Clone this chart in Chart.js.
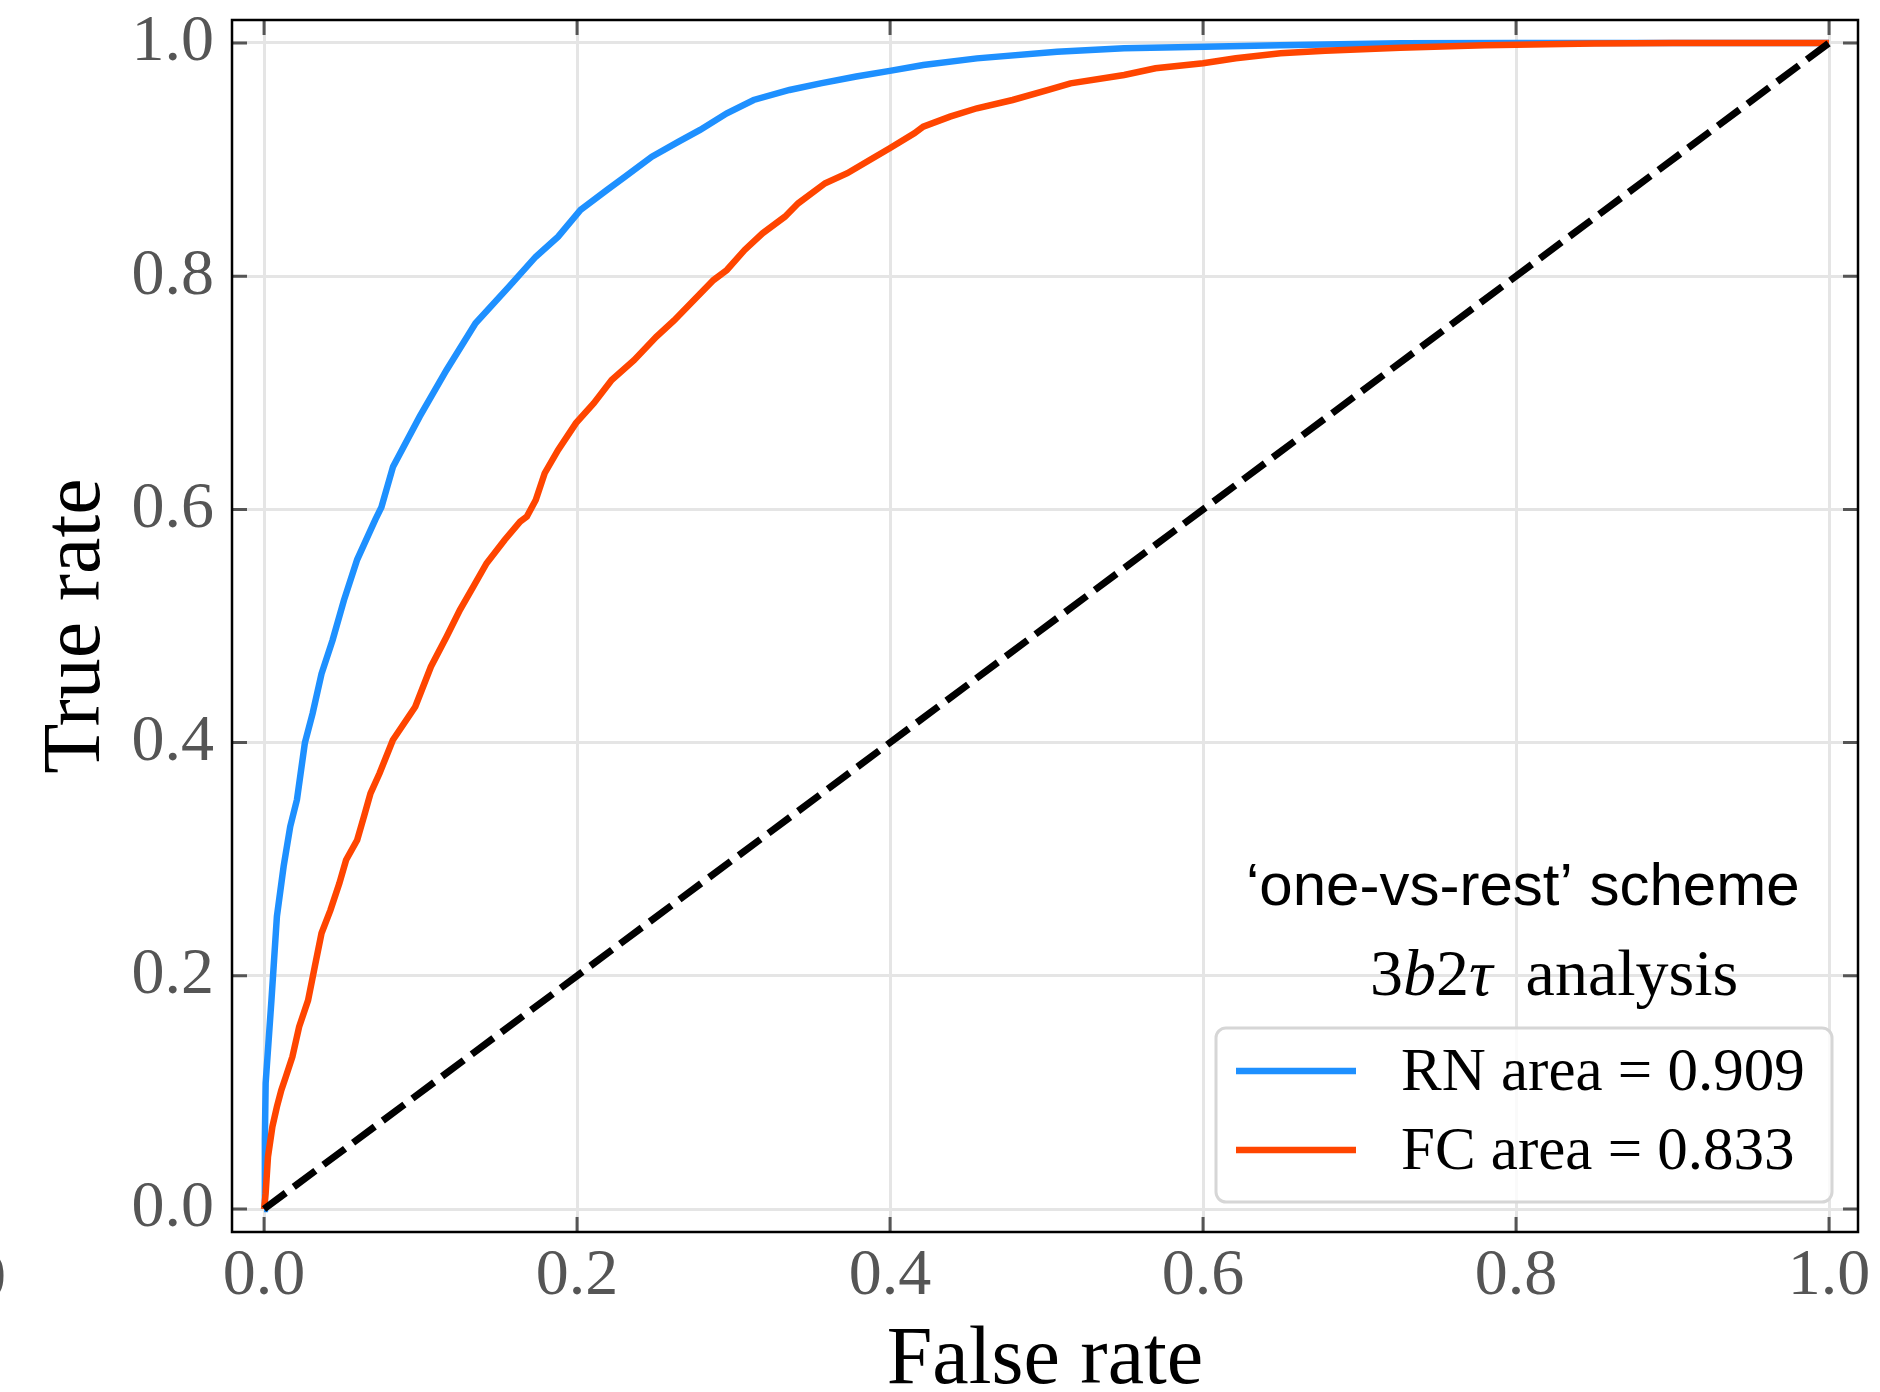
<!DOCTYPE html>
<html>
<head>
<meta charset="utf-8">
<script src="https://cdn.jsdelivr.net/npm/chart.js@4.4.1/dist/chart.umd.min.js"></script>
<style>
  html, body { margin: 0; padding: 0; background: #fff; }
  #wrap { width: 1880px; height: 1392px; }
</style>
</head>
<body>
<div id="wrap"><canvas id="roc" width="1880" height="1392"></canvas></div>
<script>
// ROC data
const rnFalse = [0, 0.0005, 0.001, 0.0047, 0.0082, 0.0125, 0.0167, 0.021, 0.0261, 0.031, 0.0367, 0.0438, 0.051, 0.0595, 0.071, 0.075, 0.0824, 0.0994, 0.1166, 0.1351, 0.1565, 0.1736, 0.1879, 0.2022, 0.2192, 0.2307, 0.2478, 0.2649, 0.2786, 0.2957, 0.3128, 0.3357, 0.3556, 0.3784, 0.3998, 0.4212, 0.4555, 0.5067, 0.5495, 0.601, 0.649, 0.726, 0.8, 1.0];
const rnTrue = [0, 0.06, 0.108, 0.179, 0.251, 0.294, 0.328, 0.351, 0.40, 0.425, 0.459, 0.488, 0.522, 0.557, 0.591, 0.602, 0.6366, 0.6795, 0.7196, 0.7596, 0.791, 0.8167, 0.8339, 0.8568, 0.874, 0.8853, 0.9025, 0.9154, 0.9254, 0.9397, 0.9511, 0.9597, 0.9654, 0.9712, 0.9761, 0.9811, 0.9868, 0.9925, 0.9954, 0.9968, 0.998, 0.9997, 1.0, 1.0];

const fcFalse = [0, 0.001, 0.0025, 0.0053, 0.0082, 0.011, 0.0139, 0.0181, 0.0224, 0.0281, 0.0324, 0.0367, 0.0424, 0.0481, 0.0524, 0.0595, 0.0638, 0.068, 0.0738, 0.0823, 0.088, 0.0966, 0.1066, 0.1166, 0.1251, 0.1337, 0.1422, 0.1537, 0.1636, 0.1679, 0.1736, 0.1793, 0.1879, 0.1993, 0.2107, 0.2221, 0.2364, 0.2506, 0.262, 0.2786, 0.2872, 0.2957, 0.3071, 0.3185, 0.3328, 0.3413, 0.3585, 0.3727, 0.387, 0.3998, 0.4155, 0.4212, 0.4383, 0.4555, 0.4783, 0.5011, 0.5153, 0.5496, 0.5696, 0.6, 0.6209, 0.6495, 0.678, 0.726, 0.78, 0.85, 0.9, 1.0];
const fcTrue = [0, 0.0135, 0.0449, 0.0706, 0.0877, 0.102, 0.1135, 0.1306, 0.1563, 0.179, 0.2078, 0.2365, 0.2564, 0.2793, 0.2993, 0.3165, 0.3365, 0.3565, 0.3737, 0.4022, 0.4136, 0.4308, 0.4651, 0.4908, 0.5137, 0.5337, 0.5538, 0.5738, 0.5895, 0.5938, 0.608, 0.631, 0.651, 0.674, 0.691, 0.711, 0.728, 0.748, 0.762, 0.785, 0.7967, 0.8053, 0.8225, 0.8368, 0.851, 0.8625, 0.8797, 0.8883, 0.8997, 0.9097, 0.9225, 0.9282, 0.9368, 0.944, 0.9511, 0.9597, 0.9654, 0.9725, 0.9783, 0.9826, 0.9869, 0.9911, 0.9934, 0.996, 0.998, 0.9995, 1.0, 1.0];

// chance line
const diagFalse = [0, 1];
const diagTrue = [0, 1];

const tickValues = [0, 0.2, 0.4, 0.6, 0.8, 1.0];
const seriesLabels = ['RN area = 0.909', 'FC area = 0.833'];
const seriesColors = ['#1e90ff', '#ff4500'];

const toPoints = (xs, ys) => xs.map((v, i) => ({ x: v, y: ys[i] }));

// inward ticks on all four sides + black frame
const frameTicks = {
    id: 'frameTicks',
    afterDatasetsDraw(chart) {
        const { ctx, chartArea: a, scales: { x, y } } = chart;
        ctx.save();
        ctx.strokeStyle = '#555';
        ctx.lineWidth = 3;
        ctx.beginPath();
        tickValues.forEach(v => {
            const px = x.getPixelForValue(v);
            const py = y.getPixelForValue(v);
            ctx.moveTo(px, a.bottom); ctx.lineTo(px, a.bottom - 15);
            ctx.moveTo(px, a.top); ctx.lineTo(px, a.top + 15);
            ctx.moveTo(a.left, py); ctx.lineTo(a.left + 15, py);
            ctx.moveTo(a.right, py); ctx.lineTo(a.right - 15, py);
        });
        ctx.stroke();
        ctx.strokeStyle = '#000';
        ctx.lineWidth = 2.5;
        ctx.strokeRect(a.left, a.top, a.right - a.left, a.bottom - a.top);
        ctx.restore();
    }
};

// legend box and the two text notes
const notes = {
    id: 'notes',
    afterDraw(chart) {
        const ctx = chart.ctx;
        ctx.save();

        // legend
        ctx.fillStyle = 'rgba(255,255,255,0.8)';
        ctx.strokeStyle = '#d6d6d6';
        ctx.lineWidth = 3;
        ctx.beginPath();
        ctx.roundRect(1216, 1028, 616, 174, 10);
        ctx.fill();
        ctx.stroke();

        seriesLabels.forEach((label, i) => {
            const yy = 1071 + i * 79;
            ctx.strokeStyle = seriesColors[i];
            ctx.lineWidth = 6.5;
            ctx.beginPath();
            ctx.moveTo(1236, yy);
            ctx.lineTo(1356, yy);
            ctx.stroke();
            ctx.fillStyle = '#000';
            ctx.font = '61px "Liberation Serif"';
            ctx.textBaseline = 'alphabetic';
            ctx.textAlign = 'left';
            ctx.fillText(label, 1401, yy + 19);
        });

        // scheme note
        ctx.fillStyle = '#000';
        ctx.font = '60px "Liberation Sans"';
        ctx.fillText('\u2018one-vs-rest\u2019 scheme', 1246, 905);

        // analysis note: 3b2τ (math) + analysis
        const parts = [
            ['3', '66px "Liberation Serif"'],
            ['b', 'italic 66px "Liberation Serif"'],
            ['2', '66px "Liberation Serif"'],
            ['\u03c4', 'italic 66px "Liberation Serif"'],
            ['  analysis', '66px "Liberation Serif"']
        ];
        let cx = 1370;
        parts.forEach(([t, f]) => {
            ctx.font = f;
            ctx.fillText(t, cx, 995);
            cx += ctx.measureText(t).width;
        });

        // clipped label stub at the far left
        ctx.fillStyle = '#555';
        ctx.font = '66px "Liberation Serif"';
        ctx.textAlign = 'right';
        ctx.fillText('0', 6, 1297);

        ctx.restore();
    }
};

const ctx = document.getElementById('roc').getContext('2d');

new Chart(ctx, {
    type: 'line',
    data: {
        datasets: [
            {
                label: seriesLabels[0],
                data: toPoints(rnFalse, rnTrue),
                borderColor: seriesColors[0],
                borderWidth: 6.5,
                pointRadius: 0,
                tension: 0,
                order: 3
            },
            {
                label: seriesLabels[1],
                data: toPoints(fcFalse, fcTrue),
                borderColor: seriesColors[1],
                borderWidth: 6.5,
                pointRadius: 0,
                tension: 0,
                order: 2
            },
            {
                label: 'chance',
                data: toPoints(diagFalse, diagTrue),
                borderColor: '#000',
                borderWidth: 7,
                borderDash: [27, 10],
                pointRadius: 0,
                tension: 0,
                order: 1
            }
        ]
    },
    options: {
        responsive: false,
        animation: false,
        layout: { padding: { top: 20, right: 22, left: 0, bottom: 0 } },
        plugins: {
            legend: { display: false },
            tooltip: { enabled: false }
        },
        scales: {
            x: {
                type: 'linear',
                min: -0.0205,
                max: 1.0185,
                afterBuildTicks: s => { s.ticks = tickValues.map(v => ({ value: v })); },
                afterFit: s => { s.height = 160; s.paddingLeft = 0; s.paddingRight = 0; },
                grid: { color: '#e5e5e5', lineWidth: 3, drawTicks: false },
                border: { display: false },
                ticks: {
                    padding: 5,
                    color: '#555',
                    font: { family: 'Liberation Serif', size: 66 },
                    callback: v => v.toFixed(1)
                },
                title: {
                    display: true,
                    text: 'False rate',
                    color: '#000',
                    font: { family: 'Liberation Serif', size: 82, lineHeight: 0.7 },
                    padding: { top: 0, bottom: 2 }
                }
            },
            y: {
                type: 'linear',
                min: -0.0197,
                max: 1.0197,
                afterBuildTicks: s => { s.ticks = tickValues.map(v => ({ value: v })); },
                afterFit: s => { s.width = 232; s.paddingTop = 0; s.paddingBottom = 0; },
                grid: { color: '#e5e5e5', lineWidth: 3, drawTicks: false },
                border: { display: false },
                ticks: {
                    padding: 18,
                    color: '#555',
                    font: { family: 'Liberation Serif', size: 66 },
                    callback: v => v.toFixed(1)
                },
                title: {
                    display: true,
                    text: 'True rate',
                    color: '#000',
                    font: { family: 'Liberation Serif', size: 82 },
                    padding: { top: 28, bottom: 0 }
                }
            }
        }
    },
    plugins: [frameTicks, notes]
});
</script>
</body>
</html>
